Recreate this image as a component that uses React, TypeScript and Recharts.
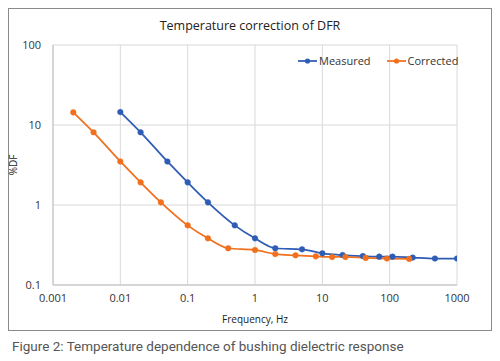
import { LineChart, Line, XAxis, YAxis, CartesianGrid } from "recharts";

const measuredFreq = [0.01, 0.02, 0.05, 0.1, 0.2, 0.5, 1, 2, 5, 10, 20, 40, 70, 110, 220, 470, 1000];
const measuredDF = [14.5, 8.1, 3.5, 1.92, 1.08, 0.557, 0.383, 0.288, 0.279, 0.249, 0.237, 0.23, 0.226, 0.226, 0.22, 0.214, 0.214];

const correctedFreq = [0.002, 0.004, 0.01, 0.02, 0.04, 0.1, 0.2, 0.4, 1, 2, 4, 8, 14, 22, 44, 91, 195];
const correctedDF = [14.4, 8.1, 3.5, 1.92, 1.08, 0.557, 0.383, 0.288, 0.274, 0.244, 0.235, 0.228, 0.224, 0.224, 0.218, 0.214, 0.212];

const xTicks = [0.001, 0.01, 0.1, 1, 10, 100, 1000];
const yTicks = [0.1, 1, 10, 100];

const BLUE = "#2F5CB4";
const ORANGE = "#F0701E";
const FONT = "'Open Sans', 'Noto Sans', sans-serif";

const measured = measuredFreq.map((f, i) => ({ f, df: measuredDF[i] }));
const corrected = correctedFreq.map((f, i) => ({ f, df: correctedDF[i] }));

const series = [
  { name: "Measured", color: BLUE },
  { name: "Corrected", color: ORANGE },
];

// legend sits inside the plot, top right
function LegendBox() {
  return (
    <div
      style={{
        position: "absolute",
        top: 44,
        left: 289,
        display: "flex",
        gap: 16,
        fontSize: 11,
        color: "#333",
      }}
    >
      {series.map((s) => (
        <span key={s.name} style={{ display: "flex", alignItems: "center", gap: 2 }}>
          <svg width={19} height={8}>
            <line x1={0} y1={4} x2={19} y2={4} stroke={s.color} strokeWidth={1.75} />
            <circle cx={9.5} cy={4} r={2.6} fill={s.color} />
          </svg>
          {s.name}
        </span>
      ))}
    </div>
  );
}

const fmt = (v: number) => String(v);

export default function App() {
  return (
    <div style={{ width: 500, fontFamily: FONT }}>
      <div
        style={{
          position: "relative",
          width: 482,
          height: 321,
          border: "1px solid #8a8a8a",
          background: "#fff",
        }}
      >
        <div
          style={{
            position: "absolute",
            top: 8,
            left: 0,
            width: "100%",
            textAlign: "center",
            fontSize: 12.5,
            color: "#222",
          }}
        >
          Temperature correction of DFR
        </div>
        <div
          style={{
            position: "absolute",
            left: 4,
            top: 156,
            transform: "translate(-50%, -50%) rotate(-90deg)",
            fontSize: 10,
            color: "#222",
          }}
        >
          %DF
        </div>
        <LineChart width={482} height={321} margin={{ top: 36, right: 34, bottom: 0, left: 0 }}>
          <CartesianGrid stroke="#d9d9d9" strokeWidth={1} />
          <XAxis
            dataKey="f"
            type="number"
            scale="log"
            domain={[0.001, 1000]}
            ticks={xTicks}
            tickFormatter={fmt}
            allowDataOverflow
            height={45}
            tickLine={false}
            tickMargin={3}
            axisLine={{ stroke: "#bfbfbf" }}
            tick={{ fontSize: 11, fill: "#333", fontFamily: FONT }}
            label={{ value: "Frequency, Hz", position: "insideBottom", offset: 7, fontSize: 10, fill: "#222", fontFamily: FONT }}
          />
          <YAxis
            dataKey="df"
            type="number"
            scale="log"
            domain={[0.1, 100]}
            ticks={yTicks}
            tickFormatter={fmt}
            allowDataOverflow
            width={44}
            tickLine={false}
            tickMargin={6}
            axisLine={{ stroke: "#bfbfbf" }}
            tick={{ fontSize: 11, fill: "#333", fontFamily: FONT }}
          />
          <Line
            data={measured}
            dataKey="df"
            name="Measured"
            type="monotone"
            stroke={BLUE}
            strokeWidth={1.75}
            dot={{ r: 2.8, fill: BLUE, stroke: BLUE, strokeWidth: 0.5 }}
            isAnimationActive={false}
          />
          <Line
            data={corrected}
            dataKey="df"
            name="Corrected"
            type="monotone"
            stroke={ORANGE}
            strokeWidth={1.75}
            dot={{ r: 2.8, fill: ORANGE, stroke: ORANGE, strokeWidth: 0.5 }}
            isAnimationActive={false}
          />
        </LineChart>
        <LegendBox />
      </div>
      <div style={{ marginTop: 7, marginLeft: 4, fontFamily: "Roboto, sans-serif", fontSize: 13.5, color: "#555" }}>
        Figure 2: Temperature dependence of bushing dielectric response
      </div>
    </div>
  );
}
